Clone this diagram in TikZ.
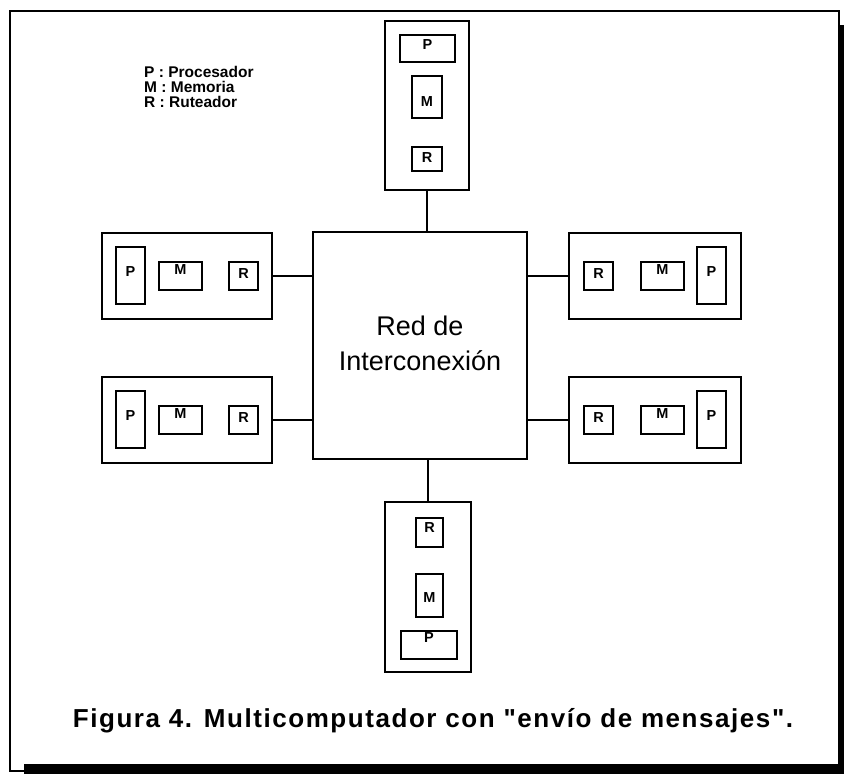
\documentclass[tikz,border=0pt]{standalone}
\usepackage{fontspec}
\setmainfont{Liberation Sans}
\newfontfamily\leyendafont[LetterSpace=6]{Liberation Sans}
\usetikzlibrary{positioning, calc}

\begin{document}
\begin{tikzpicture}[x=1pt,y=-1pt,
	modulo/.style={draw,line width=1.5pt,inner sep=0pt},
	caja/.style={draw,line width=1.5pt,inner sep=0pt},
	every label/.style={font=\fontsize{14.5}{14.5}\selectfont\bfseries,inner sep=0pt},
	enlace/.style={line width=1.5pt}]
	
	\useasboundingbox (0,0) rectangle (844,774);
	
	% marco con sombra
	\fill (839,25) rectangle (844,774);
	\fill (24,764) rectangle (844,774);
	\draw[line width=2pt] (10,11) rectangle (839,771);
	
	% red central
	\node[modulo,minimum width=214pt,minimum height=227pt,align=center,
		font=\fontsize{27}{35}\selectfont] (red) at (420,345.5)
		{\raisebox{11pt}{\begin{tabular}{@{}c@{}}Red de\\Interconexi\'on\end{tabular}}};
	
	% nodo superior
	\node[modulo,minimum width=84pt,minimum height=169pt] (sup) at (427,105.5) {};
	\node[caja,minimum width=55pt,minimum height=27pt,label={[yshift=3.5pt]center:P}] (supP) at (427.5,48.5) {};
	\node[caja,minimum width=30pt,minimum height=42pt,label={[yshift=-5pt]center:M}] (supM) at (427,97) {};
	\node[caja,minimum width=30pt,minimum height=24pt,label={[yshift=1pt]center:R}] (supR) at (427,159) {};
	
	% nodo izquierdo arriba
	\node[modulo,minimum width=170pt,minimum height=86pt] (izqA) at (187,276) {};
	\node[caja,minimum width=29pt,minimum height=57pt,label={[yshift=3.5pt]center:P}] (izqAP) at (130.5,275.5) {};
	\node[caja,minimum width=43pt,minimum height=28pt,label={[yshift=6pt]center:M}] (izqAM) at (180.5,276) {};
	\node[caja,minimum width=29pt,minimum height=28pt,label={[yshift=2pt]center:R}] (izqAR) at (243.5,276) {};
	
	% nodo izquierdo abajo
	\node[modulo,minimum width=170pt,minimum height=86pt] (izqB) at (187,420) {};
	\node[caja,minimum width=29pt,minimum height=57pt,label={[yshift=3.5pt]center:P}] (izqBP) at (130.5,419.5) {};
	\node[caja,minimum width=43pt,minimum height=28pt,label={[yshift=6pt]center:M}] (izqBM) at (180.5,420) {};
	\node[caja,minimum width=29pt,minimum height=28pt,label={[yshift=2pt]center:R}] (izqBR) at (243.5,420) {};
	
	% nodo derecho arriba
	\node[modulo,minimum width=172pt,minimum height=86pt] (derA) at (655,276) {};
	\node[caja,minimum width=29pt,minimum height=28pt,label={[yshift=2pt]center:R}] (derAR) at (598.5,276) {};
	\node[caja,minimum width=43pt,minimum height=28pt,label={[yshift=6pt]center:M}] (derAM) at (662.5,276) {};
	\node[caja,minimum width=29pt,minimum height=57pt,label={[yshift=3.5pt]center:P}] (derAP) at (711.5,275.5) {};
	
	% nodo derecho abajo
	\node[modulo,minimum width=172pt,minimum height=86pt] (derB) at (655,420) {};
	\node[caja,minimum width=29pt,minimum height=28pt,label={[yshift=2pt]center:R}] (derBR) at (598.5,420) {};
	\node[caja,minimum width=43pt,minimum height=28pt,label={[yshift=6pt]center:M}] (derBM) at (662.5,420) {};
	\node[caja,minimum width=29pt,minimum height=57pt,label={[yshift=3.5pt]center:P}] (derBP) at (711.5,419.5) {};
	
	% nodo inferior
	\node[modulo,minimum width=86pt,minimum height=170pt] (inf) at (428,587) {};
	\node[caja,minimum width=27pt,minimum height=29pt,label={[yshift=5pt]center:R}] (infR) at (429.5,532.5) {};
	\node[caja,minimum width=27pt,minimum height=43pt,label={[yshift=-2.5pt]center:M}] (infM) at (429.5,595.5) {};
	\node[caja,minimum width=56pt,minimum height=28pt,label={[yshift=7pt]center:P}] (infP) at (429,645) {};
	
	% enlaces
	\draw[enlace] (sup.south) -- (sup.south |- red.north);
	\draw[enlace] (inf.north) -- (inf.north |- red.south);
	\draw[enlace] (izqA.east) -- (izqA.east -| red.west);
	\draw[enlace] (izqB.east) -- (izqB.east -| red.west);
	\draw[enlace] (derA.west) -- (derA.west -| red.east);
	\draw[enlace] (derB.west) -- (derB.west -| red.east);
	
	% leyenda
	\node[anchor=north west,align=left,inner sep=0pt,
		font=\fontsize{15.5}{15}\selectfont\bfseries] (leyenda) at (144,66)
		{P : Procesador\\M : Memoria\\R : Ruteador};
	
	% pie de figura
	\node[anchor=base,inner sep=0pt,font=\fontsize{26}{26}\leyendafont\bfseries] (pie) at (433,727)
		{Figura 4. Multicomputador con "env\'io de mensajes".};
\end{tikzpicture}
\end{document}
